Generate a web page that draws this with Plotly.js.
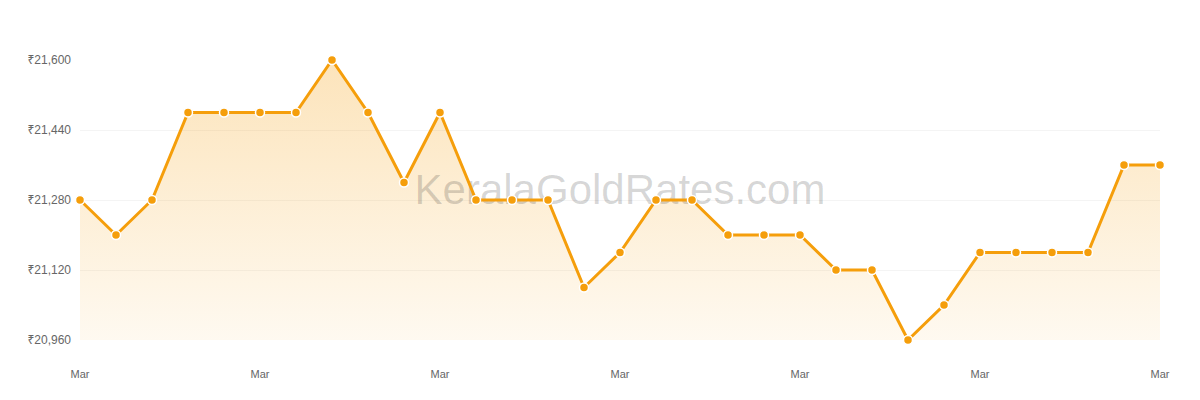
<!DOCTYPE html>
<html>
<head>
<meta charset="utf-8">
<script src="https://cdn.plot.ly/plotly-3.0.1.min.js"></script>
<style>
  html, body { margin: 0; padding: 0; background: #fff; }
  #chart { width: 1200px; height: 400px; }
</style>
</head>
<body>
<div id="chart"></div>
<script>
// one point per day, 31 days
const days = Array.from({ length: 31 }, (_, i) => i);
const prices = [
  21280, 21200, 21280, 21480, 21480, 21480, 21480, 21600, 21480, 21320,
  21480, 21280, 21280, 21280, 21080, 21160, 21280, 21280, 21200, 21200,
  21200, 21120, 21120, 20960, 21040, 21160, 21160, 21160, 21160, 21360,
  21360,
];
const xTickVals = [0, 5, 10, 15, 20, 25, 30];
const xTickText = ["Mar", "Mar", "Mar", "Mar", "Mar", "Mar", "Mar"];
const yTickVals = [20960, 21120, 21280, 21440, 21600];
const yTickText = ["₹20,960", "₹21,120", "₹21,280", "₹21,440", "₹21,600"];

const amber = "#f59e0b";
const font = "Liberation Sans, Arial, Helvetica, 'Noto Sans', 'DejaVu Sans', sans-serif";

const area = {
  type: "scatter",
  mode: "lines",
  x: days,
  y: prices,
  fill: "tozeroy",
  line: { width: 0, color: amber },
  fillgradient: {
    type: "vertical",
    start: 20960,
    stop: 21600,
    colorscale: [
      [0, "rgba(245,158,11,0.06)"],
      [1, "rgba(245,158,11,0.28)"],
    ],
  },
  hoverinfo: "skip",
  showlegend: false,
};

// watermark sits above the fill but under the line
const watermark = {
  type: "scatter",
  mode: "text",
  x: [15],
  y: [21295],
  text: ["KeralaGoldRates.com"],
  textfont: { family: font, size: 42, color: "rgba(0,0,0,0.17)" },
  hoverinfo: "skip",
  showlegend: false,
  cliponaxis: false,
};

const line = {
  type: "scatter",
  mode: "lines+markers",
  x: days,
  y: prices,
  line: { color: amber, width: 3 },
  marker: { color: amber, size: 9, line: { color: "#fff", width: 1.5 } },
  cliponaxis: false,
  hovertemplate: "₹%{y:,}<extra></extra>",
  showlegend: false,
};

const layout = {
  width: 1200,
  height: 400,
  margin: { l: 80, r: 40, t: 60, b: 60 },
  paper_bgcolor: "#ffffff",
  plot_bgcolor: "#ffffff",
  font: { family: font, color: "#666" },
  xaxis: {
    range: [0, 30],
    tickvals: xTickVals,
    ticktext: xTickText,
    showgrid: false,
    zeroline: false,
    showline: false,
    ticks: "",
    ticklabelstandoff: 26,
    tickfont: { size: 11, color: "#666" },
  },
  yaxis: {
    range: [20960, 21600],
    tickvals: yTickVals,
    ticktext: yTickText,
    showgrid: true,
    gridcolor: "#f4f4f4",
    gridwidth: 1,
    zeroline: false,
    showline: false,
    ticks: "",
    ticklabelstandoff: 8,
    tickfont: { size: 12, color: "#666" },
  },
};

Plotly.newPlot("chart", [area, watermark, line], layout, { displayModeBar: false, staticPlot: true });
</script>
</body>
</html>
